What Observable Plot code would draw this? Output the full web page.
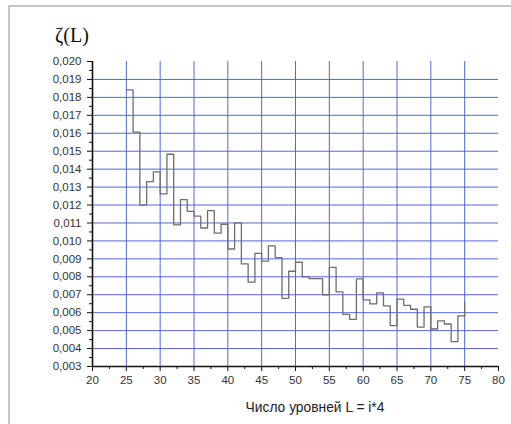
<!DOCTYPE html>
<html>
<head>
<meta charset="utf-8">
<script src="https://cdn.jsdelivr.net/npm/d3@7"></script>
<script src="https://cdn.jsdelivr.net/npm/@observablehq/plot@0.6"></script>
<style>
  html, body { margin: 0; padding: 0; background: #fff; overflow: hidden; }
  #wrap { position: relative; width: 511px; height: 424px; overflow: hidden; }
  #frame { position: absolute; left: 8px; top: 5px; width: 560px; height: 480px;
           border-left: 2px solid #c6c6c6; border-top: 2px solid #c6c6c6; }
  #title { position: absolute; left: 55px; top: 24px; font-family: "Liberation Serif", serif;
           font-size: 20px; color: #111; }
  #xlabel { position: absolute; left: 315px; top: 400px; transform: translateX(-50%);
            font-family: "Liberation Sans", Arial, sans-serif; font-size: 13.8px; color: #222; white-space: nowrap; }
  #chart { position: absolute; left: 0; top: 0; }
</style>
</head>
<body>
<div id="wrap">
  <div id="frame"></div>
  <div id="chart"></div>
  <div id="title">ζ(L)</div>
  <div id="xlabel">Число уровней L = i*4</div>
</div>
<script>
// Data: left edge of each step (L) and its ζ(L) value
const levels = [25,26,27,28,29,30,31,32,33,34,35,36,37,38,39,40,41,42,43,44,45,46,47,48,49,
                50,51,52,53,54,55,56,57,58,59,60,61,62,63,64,65,66,67,68,69,70,71,72,73,74,75];
const zeta = [0.01842,0.01606,0.01200,0.01331,0.01385,0.01262,0.01483,0.01089,0.01230,0.01165,
              0.01138,0.01072,0.01169,0.01043,0.01093,0.00955,0.01100,0.00872,0.00770,0.00931,
              0.00887,0.00972,0.00907,0.00680,0.00831,0.00881,0.00800,0.00790,0.00790,0.00700,
              0.00853,0.00716,0.00591,0.00563,0.00788,0.00671,0.00649,0.00710,0.00638,0.00528,
              0.00675,0.00641,0.00619,0.00520,0.00632,0.00509,0.00554,0.00537,0.00439,0.00582,
              0.00660];
const xMajor = [20,25,30,35,40,45,50,55,60,65,70,75,80];
const xMinor = [22.5,27.5,32.5,37.5,42.5,47.5,52.5,57.5,62.5,67.5,72.5,77.5];
const xGrid = [25,30,35,40,45,50,55,60,65,70,75];
const yMajor = [0.003,0.004,0.005,0.006,0.007,0.008,0.009,0.010,0.011,0.012,0.013,0.014,0.015,0.016,0.017,0.018,0.019,0.020];
const yMinor = [0.0035,0.0045,0.0055,0.0065,0.0075,0.0085,0.0095,0.0105,0.0115,0.0125,0.0135,0.0145,0.0155,0.0165,0.0175,0.0185,0.0195];
const yGrid = [0.004,0.005,0.006,0.007,0.008,0.009,0.010,0.011,0.012,0.013,0.014,0.015,0.016,0.017,0.018,0.019];

const data = levels.map((L, i) => ({L, z: zeta[i]}));
const fmt = d => d.toFixed(3).replace(".", ",");
const font = "Liberation Sans, Arial, sans-serif";

const chart = Plot.plot({
  width: 511,
  height: 424,
  marginLeft: 92,
  marginRight: 13,
  marginTop: 61,
  marginBottom: 58,
  style: {fontFamily: font, fontSize: "11.5px", color: "#333", background: "transparent"},
  x: {domain: [20, 80]},
  y: {domain: [0.003, 0.020]},
  marks: [
    Plot.gridX(xGrid, {stroke: "#4b5fd6", strokeOpacity: 0.95, strokeWidth: 1}),
    Plot.gridY(yGrid, {stroke: "#4b5fd6", strokeOpacity: 0.95, strokeWidth: 1}),
    Plot.line(data, {x: "L", y: "z", curve: "step-after", stroke: "#6e6e6e", strokeWidth: 1.3}),
    Plot.axisX(xMajor, {tickSize: 5, tickPadding: 4, tickFormat: d => String(d), label: null, stroke: "#111", fill: "#333", fontSize: 11.5}),
    Plot.axisX(xMinor, {tickSize: 3, text: null, label: null, stroke: "#111"}),
    Plot.axisY(yMajor, {tickSize: 5, tickPadding: 6, tickFormat: fmt, label: null, stroke: "#111", fill: "#333", fontSize: 11.5}),
    Plot.axisY(yMinor, {tickSize: 3, text: null, label: null, stroke: "#111"}),
    Plot.ruleX([20], {stroke: "#111", strokeWidth: 1.6}),
    Plot.ruleY([0.003], {stroke: "#111", strokeWidth: 1.6})
  ]
});
document.getElementById("chart").appendChild(chart);
</script>
</body>
</html>
